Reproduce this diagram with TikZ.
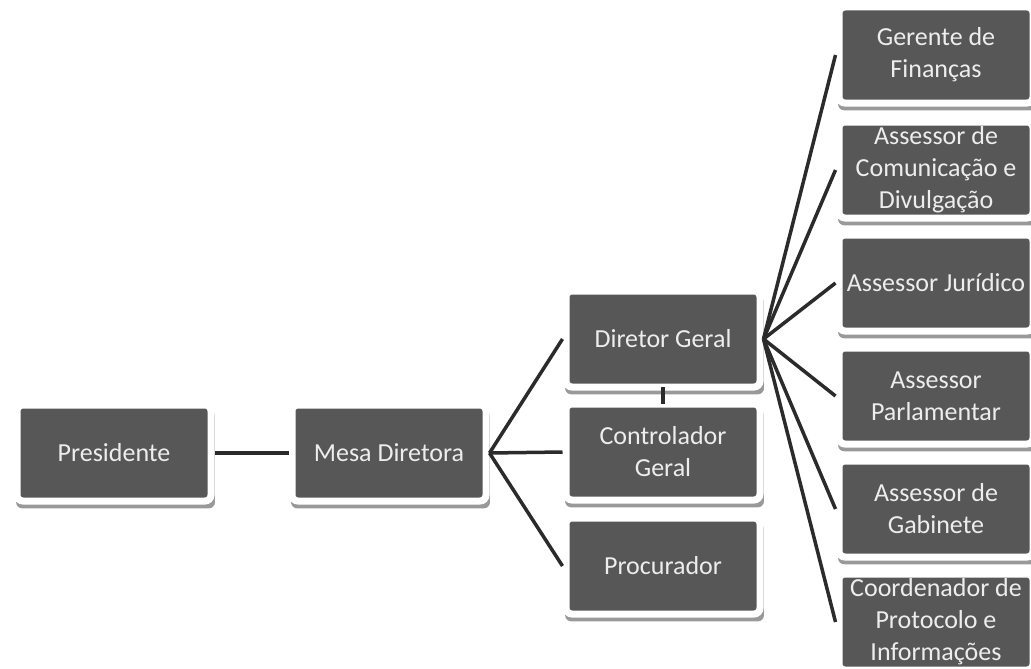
\documentclass[tikz,border=0pt]{standalone}
\usepackage{fontspec}
\setmainfont{Carlito}
\usetikzlibrary{shadows}
\definecolor{boxfill}{HTML}{575757}
\definecolor{boxtext}{HTML}{EDEDED}
\definecolor{linecol}{HTML}{2B2B2B}
\begin{document}
\begin{tikzpicture}[x=1pt,y=-1pt,
  orgbox/.style={draw=white, line width=7pt, fill=boxfill, rounded corners=6pt,
    minimum width=194pt, minimum height=96pt, inner sep=0pt,
    align=center, text=boxtext, font=\fontsize{26}{32}\selectfont,
    drop shadow={shadow xshift=1.5pt, shadow yshift=-6pt, shadow scale=1.025, opacity=0.4, fill=black}},
  conn/.style={draw=linecol, line width=3.5pt}]
\useasboundingbox (0,0) rectangle (1031,669);
\fill[white] (0,0) rectangle (1031,669);
% nodes
\node[orgbox] (pres) at (114,453) {Presidente};
\node[orgbox] (mesa) at (389,453) {Mesa Diretora};
\node[orgbox] (dg) at (663,339) {Diretor Geral};
\node[orgbox] (cg) at (663,452) {Controlador\\Geral};
\node[orgbox] (proc) at (663,566) {Procurador};
\node[orgbox] (fin) at (936,55) {Gerente de\\Finanças};
\node[orgbox] (com) at (936,170) {Assessor de\\Comunicação e\\Divulgação};
\node[orgbox] (jur) at (936,283) {Assessor Jurídico};
\node[orgbox] (par) at (936,396) {Assessor\\Parlamentar};
\node[orgbox] (gab) at (936,509) {Assessor de\\Gabinete};
\node[orgbox] (coord) at (936,622) {Coordenador de\\Protocolo e\\Informações};
% connectors
\draw[conn] (pres.east) -- (mesa.west);
\draw[conn] (mesa.east) -- (dg.west);
\draw[conn] (mesa.east) -- (cg.west);
\draw[conn] (mesa.east) -- (proc.west);
\draw[conn] ([yshift=3.5pt]dg.south) -- ([yshift=-3.5pt]cg.north);
\foreach \t in {fin,com,jur,par,gab,coord}
  \draw[conn] (dg.east) -- (\t.west);
\end{tikzpicture}
\end{document}
